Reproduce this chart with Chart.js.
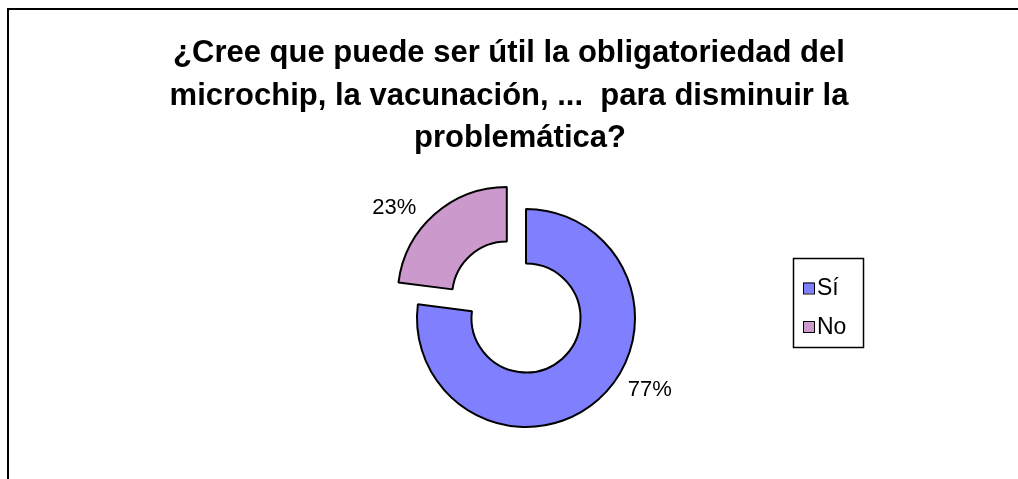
<!DOCTYPE html>
<html>
<head>
<meta charset="utf-8">
<script src="https://cdn.jsdelivr.net/npm/chart.js@4/dist/chart.umd.min.js"></script>
<style>
  html, body { margin: 0; padding: 0; background: #fff; }
  #wrap { position: relative; width: 1018px; height: 479px; overflow: hidden; }
  #frame { position: absolute; left: 7px; top: 8px; width: 1200px; height: 700px;
           border-top: 2px solid #000; border-left: 2px solid #000; }
  #chart { position: absolute; left: 0; top: 0; }
</style>
</head>
<body>
<div id="wrap">
  <div id="frame"></div>
  <canvas id="chart" width="1018" height="479"></canvas>
</div>
<script>
// data
var categories = ['Sí', 'No'];
var shares = [77, 23];
var titleLines = [
  '¿Cree que puede ser útil la obligatoriedad del',
  'microchip, la vacunación, ...  para disminuir la',
  'problemática?'
];

// styles
var sliceColors = ['#8080FF', '#CC99CC'];
var explodedSlice = 'No';
var titleShift = [0, 0, 11];        // px, the last line sits a little right in the original
var labelTurn = [-18.5, -10.5];     // degrees, label turned back from the slice middle
var labelGap = 34;                  // px outside the ring
var FONT = '"Liberation Sans", Arial, sans-serif';

// title, drawn as three centered lines
var titlePlugin = {
  id: 'excelTitle',
  afterDraw: function(chart) {
    var ctx = chart.ctx;
    ctx.save();
    ctx.font = 'bold 31px ' + FONT;
    ctx.fillStyle = '#000';
    ctx.textAlign = 'center';
    ctx.textBaseline = 'alphabetic';
    for (var i = 0; i < titleLines.length; i++) {
      ctx.fillText(titleLines[i], 509 + titleShift[i], 62 + i * 42.5);
    }
    ctx.restore();
  }
};

// percent labels placed from each arc's geometry
var pctPlugin = {
  id: 'pctLabels',
  afterDatasetsDraw: function(chart) {
    var ctx = chart.ctx;
    var meta = chart.getDatasetMeta(0);
    ctx.save();
    ctx.font = '22px ' + FONT;
    ctx.fillStyle = '#000';
    ctx.textAlign = 'center';
    ctx.textBaseline = 'middle';
    meta.data.forEach(function(arc, i) {
      var p = arc.getProps(['x', 'y', 'startAngle', 'endAngle', 'outerRadius'], true);
      var mid = (p.startAngle + p.endAngle) / 2;
      var off = (arc.options.offset || 0) / 4;   // v4 arcs move by offset/4
      var cx = p.x + Math.cos(mid) * off;
      var cy = p.y + Math.sin(mid) * off;
      var a = mid + labelTurn[i] * Math.PI / 180;
      var r = p.outerRadius + labelGap;
      ctx.fillText(shares[i] + '%', cx + Math.cos(a) * r, cy + Math.sin(a) * r);
    });
    ctx.restore();
  }
};

// boxed legend on the right
var legendPlugin = {
  id: 'boxLegend',
  afterDraw: function(chart) {
    var ctx = chart.ctx;
    var ds = chart.data.datasets[0];
    var bx = 793.5, by = 258.5, bw = 70, bh = 89;
    ctx.save();
    ctx.lineWidth = 1.5;
    ctx.strokeStyle = '#000';
    ctx.strokeRect(bx, by, bw, bh);
    ctx.font = '23px ' + FONT;
    ctx.textBaseline = 'middle';
    ctx.textAlign = 'left';
    chart.data.labels.forEach(function(lab, i) {
      var cy = 288 + i * 38.5;
      ctx.fillStyle = ds.backgroundColor[i];
      ctx.fillRect(803, cy - 5.5, 11, 11);
      ctx.lineWidth = 1;
      ctx.strokeRect(803.5, cy - 5, 11, 11);
      ctx.fillStyle = '#000';
      ctx.fillText(lab, 817, cy + 1);
    });
    ctx.restore();
  }
};

new Chart(document.getElementById('chart'), {
  type: 'doughnut',
  data: {
    labels: categories,
    datasets: [{
      data: shares,
      backgroundColor: sliceColors,
      borderColor: '#000',
      borderWidth: 2,
      offset: function(c) { return categories[c.dataIndex] === explodedSlice ? 116 : 0; },
      hoverOffset: 0
    }]
  },
  options: {
    responsive: false,
    animation: false,
    devicePixelRatio: 1,
    radius: 109,
    cutout: '50%',
    layout: { padding: { left: 418, right: 384, top: 209, bottom: 52 } },
    plugins: {
      legend: { display: false },
      title: { display: false },
      tooltip: { enabled: false }
    }
  },
  plugins: [titlePlugin, pctPlugin, legendPlugin]
});
</script>
</body>
</html>
